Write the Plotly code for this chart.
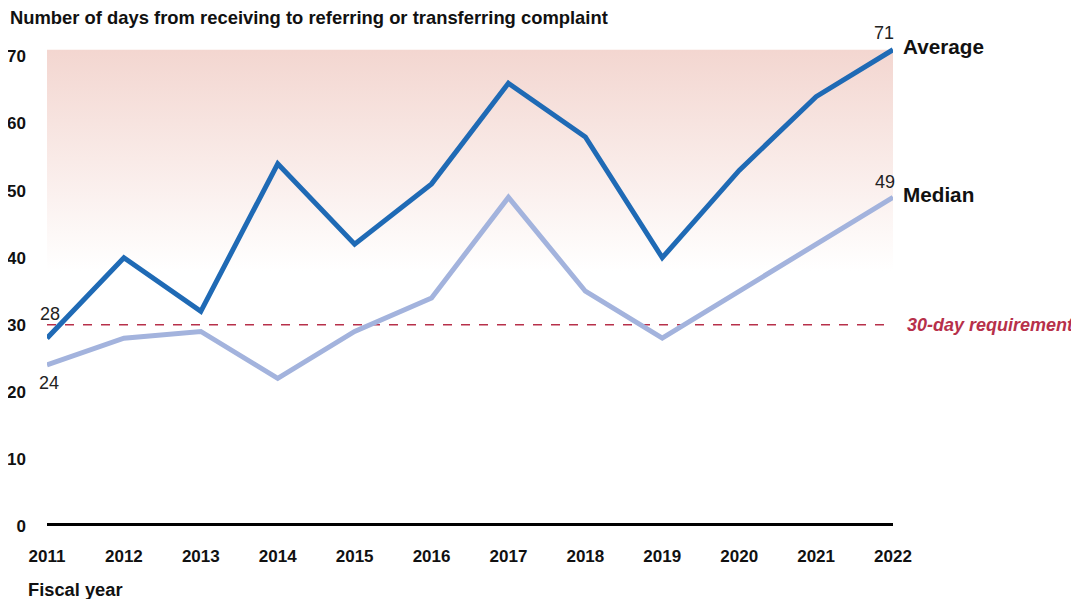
import plotly.graph_objects as go

years = list(range(2011, 2023))
average = [28, 40, 32, 54, 42, 51, 66, 58, 40, 53, 64, 71]
median = [24, 28, 29, 22, 29, 34, 49, 35, 28, 35, 42, 49]
requirement = 30
shade_low, shade_high = 38, 71
y_ticks = [0, 10, 20, 30, 40, 50, 60, 70]

FONT = "Liberation Sans, Arial, sans-serif"
AVG_C = "#1F6AB5"
MED_C = "#A3B3DD"
RED = "#B7304A"

# page body has an 8px margin; size figure so it fills the 1079x599 window
OFF = 8
W, H = 1079 - OFF, 599 - OFF
ML, MR, MT, MB = 39, 186, 35, 73
PW = W - ML - MR
PH = H - MT - MB


def px(xp):
    return (xp - OFF - ML) / PW


def py(yp):
    return (H - MB - (yp - OFF)) / PH


fig = go.Figure()

fig.add_trace(go.Scatter(
    x=[years[0], years[-1], years[-1], years[0], years[0]],
    y=[shade_low, shade_low, shade_high, shade_high, shade_low],
    mode="none", fill="toself",
    fillgradient=dict(type="vertical", colorscale=[[0, "rgba(255,255,255,1)"], [1, "#F3D6D0"]]),
    hoverinfo="skip", showlegend=False,
))

fig.add_trace(go.Scatter(
    x=[years[0], years[-1] + 0.05], y=[requirement, requirement], mode="lines",
    line=dict(color=RED, width=1.6, dash="dash"), showlegend=False, hoverinfo="skip",
))

fig.add_trace(go.Scatter(x=years, y=median, mode="lines",
                         line=dict(color=MED_C, width=5), showlegend=False, cliponaxis=False))
fig.add_trace(go.Scatter(x=years, y=average, mode="lines",
                         line=dict(color=AVG_C, width=5), showlegend=False, cliponaxis=False))

fig.add_shape(type="line", x0=years[0], x1=years[-1], y0=0, y1=0,
              line=dict(color="black", width=6), layer="above")

anns = []
anns.append(dict(x=px(8), y=py(17), xref="paper", yref="paper", yanchor="middle", xanchor="left",
                 text="<b>Number of days from receiving to referring or transferring complaint</b>",
                 showarrow=False, font=dict(size=18.4, color="#111", family=FONT)))
anns.append(dict(x=px(26), y=py(589), xref="paper", yref="paper", yanchor="middle", xanchor="left",
                 text="<b>Fiscal year</b>", showarrow=False,
                 font=dict(size=18.3, color="#111", family=FONT)))
anns.append(dict(x=years[-1], y=average[-1], text="<b>Average</b>", showarrow=False,
                 xanchor="left", xshift=8, yshift=3, font=dict(size=20.7, color="#111", family=FONT)))
anns.append(dict(x=years[-1], y=median[-1], text="<b>Median</b>", showarrow=False,
                 xanchor="left", xshift=8, yshift=3, font=dict(size=20.7, color="#111", family=FONT)))
anns.append(dict(x=years[-1], y=average[-1], text=str(average[-1]), showarrow=False,
                 xanchor="right", yanchor="bottom", xshift=3, yshift=5, font=dict(size=18, color="#222", family=FONT)))
anns.append(dict(x=years[-1], y=median[-1], text=str(median[-1]), showarrow=False,
                 xanchor="right", yanchor="bottom", xshift=4, yshift=3, font=dict(size=18, color="#222", family=FONT)))
anns.append(dict(x=years[0], y=average[0], text=str(average[0]), showarrow=False,
                 xanchor="center", yanchor="bottom", xshift=3, yshift=12, font=dict(size=18, color="#222", family=FONT)))
anns.append(dict(x=years[0], y=median[0], text=str(median[0]), showarrow=False,
                 xanchor="center", yanchor="top", xshift=2, yshift=-6, font=dict(size=18, color="#222", family=FONT)))
anns.append(dict(x=years[-1], y=requirement, text="<b><i>30-day requirement</i></b>", showarrow=False,
                 xanchor="left", xshift=12, font=dict(size=18, color=RED, family=FONT)))
fig.update_layout(annotations=anns)

fig.update_layout(
    width=W, height=H,
    margin=dict(l=ML, r=MR, t=MT, b=MB),
    plot_bgcolor="white", paper_bgcolor="white",
    font=dict(family=FONT, color="#111"),
    xaxis=dict(range=[years[0], years[-1]], tickvals=years, ticktext=[f"<b>{y}</b>" for y in years],
               showgrid=False, zeroline=False, showline=False, ticks="", automargin=False,
               tickfont=dict(size=17, color="#111", family=FONT), ticklabelstandoff=18),
    yaxis=dict(range=[0, 72], tickvals=y_ticks, ticktext=[f"<b>{t}</b>" for t in y_ticks],
               showgrid=False, zeroline=False, showline=False, ticks="", automargin=False,
               tickfont=dict(size=17, color="#111", family=FONT), ticklabelstandoff=20),
)

fig.write_html("out.html")
